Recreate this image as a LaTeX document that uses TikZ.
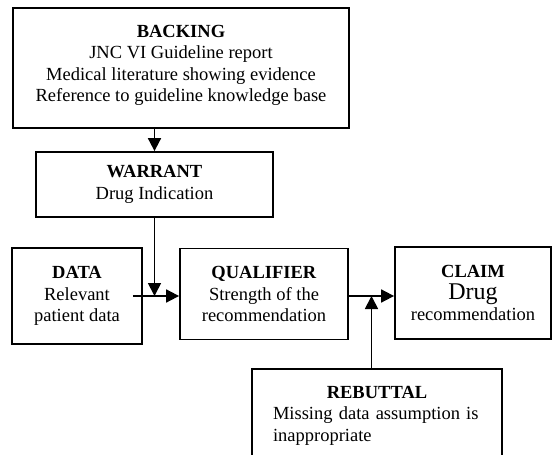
\documentclass[tikz,border=0pt]{standalone}
\usepackage{fontspec}
\setmainfont{Liberation Serif}
\usetikzlibrary{arrows.meta,calc}

\begin{document}
\begin{tikzpicture}[x=1pt, y=-1pt,
  tbox/.style={draw, line width=1.8pt, align=center, inner sep=0pt,
               font=\fontsize{18.5}{21.5}\selectfont},
  arr/.style={-{Triangle[length=13pt,width=13pt]}, line width=1.8pt},
]

%% ---- Frame of the page
\useasboundingbox (0,0) rectangle (552,455);

%% ---- Row heights (top to bottom)
\def\rA{68}    % backing
\def\rB{184.5} % warrant
\def\rC{296}   % data / qualifier / claim
\def\rD{368}   % rebuttal (top edge)

%% ======== Upper chain ========
\node[tbox, minimum width=336, minimum height=120] (backing) at (181,\rA)
  {\textbf{BACKING}\\JNC VI Guideline report\\Medical literature showing evidence\\Reference to guideline knowledge base\\[-12pt]\mbox{}};
\node[tbox, minimum width=237, minimum height=65] (warrant) at (154.5,\rB)
  {\textbf{WARRANT}\\Drug Indication};

%% ======== Middle row ========
\node[tbox, minimum width=130, minimum height=96] (data) at (77,\rC)
  {\textbf{DATA}\\Relevant\\patient data};
\node[tbox, minimum width=168, minimum height=91] (qualifier) at (264,\rC-2)
  {\textbf{QUALIFIER}\\Strength of the\\recommendation};
\node[tbox, minimum width=156, minimum height=92] (claim) at (473,\rC-3)
  {\textbf{CLAIM}\\{\fontsize{24}{26}\selectfont Drug}\\recommendation};

%% ======== Rebuttal (runs off the bottom) ========
\node[tbox, anchor=north, align=left, text width=208, inner xsep=21, inner ysep=17]
  (rebuttal) at (377,\rD)
  {\makebox[208pt]{\textbf{REBUTTAL}}\\Missing data assumption is\\inappropriate};

%% ---- Joints on the data line
\coordinate (join1) at (warrant.south |- data.east);
\coordinate (join2) at ($(qualifier.east |- data.east)!0.5!(claim.west |- data.east)$);

\draw[arr] (warrant.north |- backing.south) -- (warrant.north);
\draw[arr] (warrant.south) -- (join1);
\draw[arr] ([xshift=-10pt]data.east) -- (qualifier.west |- data.east);
\draw[arr] (qualifier.east |- data.east) -- (claim.west |- data.east);
\draw[arr] (rebuttal.north -| join2) -- (join2);

\end{tikzpicture}
\end{document}
